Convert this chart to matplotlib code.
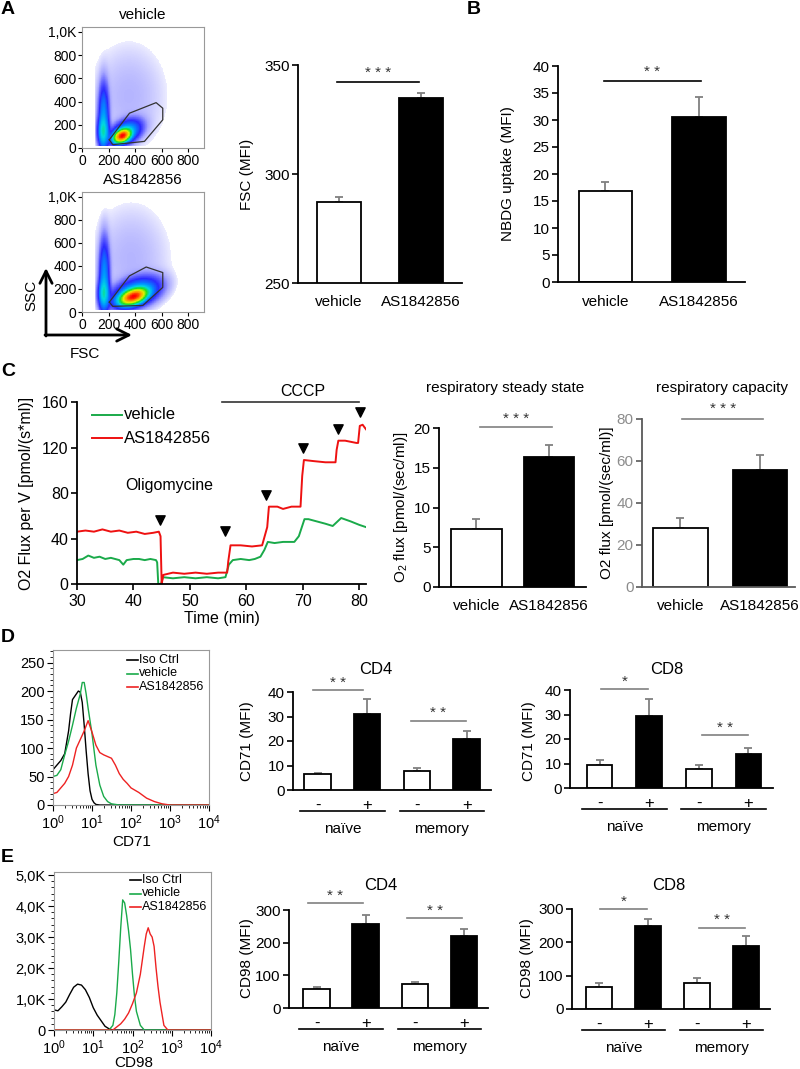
import numpy as np
import matplotlib
matplotlib.use('Agg')
import matplotlib.pyplot as plt
from matplotlib.colors import LinearSegmentedColormap, LogNorm
from matplotlib.transforms import blended_transform_factory
import matplotlib.ticker as mticker

plt.rcParams['font.family'] = ['Liberation Sans', 'DejaVu Sans']
plt.rcParams['mathtext.fontset'] = 'custom'
plt.rcParams['mathtext.rm'] = 'Liberation Sans'
plt.rcParams['mathtext.it'] = 'Liberation Sans:italic'
plt.rcParams['mathtext.bf'] = 'Liberation Sans:bold'

W, H = 800, 1069

# ------------------------------------------------------------------ data
groups_AB = ['vehicle', 'AS1842856']
fsc_mfi = [287.2, 334.9]
fsc_err = [2.2, 2.3]
nbdg_mfi = [16.9, 30.6]
nbdg_err = [1.6, 3.6]
o2_steady = [7.3, 16.4]
o2_steady_err = [1.3, 1.5]
o2_capacity = [28.2, 55.7]
o2_capacity_err = [4.8, 7.3]

treat_labels = ['-', '+', '-', '+']
subsets = ['naïve', 'memory']
cd71_cd4 = [6.5, 30.9, 7.8, 20.9]
cd71_cd4_err = [0.5, 6.3, 1.0, 3.1]
cd71_cd8 = [9.5, 29.3, 7.7, 13.9]
cd71_cd8_err = [1.8, 7.1, 1.5, 2.5]
cd98_cd4 = [57.8, 258.0, 73.5, 220.6]
cd98_cd4_err = [5.2, 25.6, 6.3, 21.0]
cd98_cd8 = [67.0, 249.0, 79.0, 187.6]
cd98_cd8_err = [10.0, 22.0, 15.0, 30.4]

# O2 flux traces (time in min, flux)
red_t = [30, 31.5, 33, 34.5, 36, 37.5, 39, 40.5, 42, 43.5, 44.5, 44.8, 45.0, 45.3, 47, 49, 51, 53, 55, 56.6,
         56.8, 57.2, 59, 61, 62.8, 63.7, 64.0, 65.5, 66.5, 68, 69.6, 69.9, 70.2, 72, 74, 75.8, 76.0, 76.3, 77.5, 79.5,
         79.8, 80.1, 80.6, 81.2]
red_v = [46, 47, 46, 48, 46, 47, 45, 46, 44, 45, 46, 42, 0, 8, 10, 9, 10, 9, 10, 10,
         20, 34, 34, 33, 34, 50, 68, 68, 66, 68, 68, 95, 109, 108, 107, 107, 118, 126, 126, 124,
         124, 139, 140, 136]
green_t = [30, 31, 32, 33, 34, 35, 36, 37.5, 38.2, 38.8, 40, 41, 42, 43, 44, 44.2, 44.4, 44.9, 45.2, 47,
           49, 51, 53, 55, 56.3, 56.9, 57.6, 59, 60.5, 61.5, 62.5, 63.2, 63.8, 65, 66.5, 68.5, 69.3, 70.3, 71, 72.5,
           74, 75.3, 76.8, 78.5, 80, 81.2]
green_v = [21, 22, 25, 23, 24, 22, 23, 21, 17, 21, 22, 22, 21, 22, 21, 19, 0, 0, 6, 5,
           6, 5, 6, 5, 6, 17, 21, 22, 21, 22, 24, 30, 37, 36, 37, 37, 42, 57, 57, 55,
           53, 51, 58, 55, 52, 50]
inj_t = [44.7, 56.3, 63.5, 70.0, 76.3, 80.2]
inj_v = [56, 47, 78, 120, 136, 151]

# CD71 histograms (log10 fluorescence, count)
cd71_iso_x = [0, 0.1, 0.2, 0.3, 0.4, 0.45, 0.5, 0.55, 0.6, 0.65, 0.7, 0.75, 0.8, 0.85, 0.9, 0.95, 1.0, 1.05, 1.1, 1.2, 4]
cd71_iso_y = [62, 70, 78, 90, 130, 160, 185, 190, 195, 200, 198, 180, 140, 95, 55, 25, 10, 4, 1, 0, 0]
cd71_veh_x = [0, 0.1, 0.2, 0.3, 0.4, 0.5, 0.6, 0.7, 0.75, 0.8, 0.85, 0.9, 1.0, 1.1, 1.2, 1.3, 1.4, 1.5, 1.7, 4]
cd71_veh_y = [50, 52, 62, 88, 112, 140, 170, 195, 215, 215, 195, 170, 125, 70, 35, 15, 6, 2, 0, 0]
cd71_as_x = [0, 0.1, 0.2, 0.3, 0.4, 0.5, 0.6, 0.7, 0.8, 0.9, 1.0, 1.1, 1.2, 1.3, 1.4, 1.5, 1.6, 1.7, 1.8, 1.9,
             2.0, 2.2, 2.4, 2.6, 2.8, 3.0, 4]
cd71_as_y = [20, 22, 30, 38, 50, 70, 100, 115, 130, 148, 128, 105, 92, 88, 85, 82, 70, 55, 45, 38,
             30, 22, 12, 6, 2, 0, 0]
# CD98 histograms (log10 fluorescence, count)
cd98_iso_x = [0, 0.1, 0.2, 0.3, 0.4, 0.5, 0.6, 0.7, 0.8, 0.9, 1.0, 1.1, 1.2, 1.3, 1.4, 1.5, 4]
cd98_iso_y = [650, 620, 750, 900, 1150, 1380, 1480, 1450, 1300, 1050, 720, 480, 300, 120, 40, 0, 0]
cd98_veh_x = [0, 1.4, 1.5, 1.55, 1.6, 1.65, 1.7, 1.75, 1.8, 1.85, 1.9, 1.95, 2.0, 2.05, 2.1, 2.2, 2.3, 4]
cd98_veh_y = [0, 0, 150, 500, 1200, 2200, 3300, 4200, 4100, 3700, 3200, 2600, 1800, 1100, 600, 150, 0, 0]
cd98_as_x = [0, 1.5, 1.6, 1.7, 1.8, 1.9, 2.0, 2.1, 2.2, 2.3, 2.35, 2.4, 2.45, 2.5, 2.55, 2.6, 2.65, 2.7, 2.8, 2.9, 4]
cd98_as_y = [0, 0, 100, 200, 350, 550, 850, 1200, 1800, 2700, 3100, 3300, 3100, 3000, 2700, 2000, 1400, 900, 150, 0, 0]

# FSC/SSC population components: (FSC, SSC, sd_long, sd_short, angle, weight)
pops_vehicle = [(304, 105, 37, 26, 38, 1.0), (331, 135, 75, 50, 38, 0.10), (163, 260, 23, 170, 0, 0.07),
                (159, 140, 23, 70, 0, 0.10), (353, 450, 205, 330, 0, 0.006)]
pops_as = [(388, 135, 57, 32, 25, 1.0), (406, 165, 110, 65, 25, 0.10), (168, 300, 23, 190, 0, 0.07),
           (163, 160, 23, 70, 0, 0.10), (370, 470, 212, 340, 0, 0.006)]
gate_vehicle = [(206, 71), (358, 300), (559, 391), (609, 343), (609, 243), (471, 57), (232, 29)]
gate_as = [(206, 86), (358, 314), (484, 391), (609, 343), (609, 214), (459, 57), (232, 49)]
fsc_max, ssc_max = 920, 1043

# ------------------------------------------------------------------ helpers
fig = plt.figure(figsize=(8, 10.69), dpi=100)


def rect(l, t, r, b):
    return [l / W, 1 - b / H, (r - l) / W, (b - t) / H]


ax0 = fig.add_axes([0, 0, 1, 1], zorder=10)
ax0.set_xlim(0, W)
ax0.set_ylim(H, 0)
ax0.axis('off')
ax0.patch.set_alpha(0)


def T(x, y, s, **kw):
    ha = kw.pop('ha', 'center')
    va = kw.pop('va', 'center')
    fs = kw.pop('fontsize', 11)
    return ax0.text(x, y, s, ha=ha, va=va, fontsize=fs, **kw)


def style_bar_axes(ax, tickfs=11, color='black', labcolor='black'):
    for s in ['top', 'right']:
        ax.spines[s].set_visible(False)
    for s in ['left', 'bottom']:
        ax.spines[s].set_color(color)
        ax.spines[s].set_linewidth(1.3)
    ax.tick_params(axis='y', direction='out', length=4, width=1.2, labelsize=tickfs, pad=2,
                   color=color, labelcolor=labcolor)
    ax.tick_params(axis='x', length=0, labelsize=tickfs)


def bars(ax, pos, vals, errs, width, cols):
    ax.bar(pos, vals, width=width, color=cols, edgecolor='black', linewidth=1.3, zorder=2)
    ax.errorbar(pos, vals, yerr=[np.zeros(len(vals)), errs], fmt='none', ecolor='#808080',
                elinewidth=1.3, capsize=3, capthick=1.3, zorder=1)


def sig(ax, x0, x1, y, s, color='#808080', dy=0.0):
    ax.plot([x0, x1], [y, y], color=color, lw=1.2, clip_on=False)
    ax.text((x0 + x1) / 2, y + dy, ' '.join(s), ha='center', va='bottom', fontsize=11, color='#333333')


def groups_below(ax, pos, hpx_axes, off_line, off_lab):
    tr = blended_transform_factory(ax.transData, ax.transAxes)
    for i, name in enumerate(subsets):
        x0, x1 = pos[2 * i] - 0.35, pos[2 * i + 1] + 0.35
        ax.plot([x0, x1], [-off_line / hpx_axes] * 2, color='black', lw=1.2, transform=tr, clip_on=False)
        ax.text((x0 + x1) / 2, -off_lab / hpx_axes, name, transform=tr, ha='center', va='center', fontsize=11)


# ------------------------------------------------------------------ A: dot plots
cmap_flow = LinearSegmentedColormap.from_list('flow', [
    (0.0, '#ececff'), (0.2, '#a8a8ff'), (0.42, '#2a2aff'), (0.56, '#0090ff'), (0.66, '#00d8e0'),
    (0.76, '#20e020'), (0.85, '#e0f000'), (0.93, '#ff9000'), (1.0, '#ff0000')])
GX, GY = np.meshgrid(np.linspace(0, fsc_max, 300), np.linspace(0, ssc_max, 300))


def dens(pops):
    Z = np.zeros_like(GX)
    for cx, cy, sx, sy, ang, w in pops:
        a = np.deg2rad(ang)
        dx, dy = GX - cx, GY - cy
        u = dx * np.cos(a) + dy * np.sin(a)
        v = -dx * np.sin(a) + dy * np.cos(a)
        Z += w * np.exp(-0.5 * ((u / sx) ** 2 + (v / sy) ** 2))
    Z /= Z.max()
    Z[GX < 101] = 0
    Z[GY < 15] = 0
    return np.ma.masked_less(Z, 0.002)


for (t, b, title, pops, gate) in [(27, 148, 'vehicle', pops_vehicle, gate_vehicle),
                                  (192, 312, 'AS1842856', pops_as, gate_as)]:
    ax = fig.add_axes(rect(82, t, 204, b))
    ax.pcolormesh(GX, GY, dens(pops), cmap=cmap_flow, norm=LogNorm(0.002, 1), shading='auto', rasterized=True)
    g = np.array(gate + [gate[0]])
    ax.plot(g[:, 0], g[:, 1], color='#333333', lw=0.9)
    ax.set_xlim(0, fsc_max)
    ax.set_ylim(0, ssc_max)
    ax.set_xticks([0, 200, 400, 600, 800])
    ax.set_yticks([0, 200, 400, 600, 800, 1000])
    ax.set_yticklabels(['0', '200', '400', '600', '800', '1,0K'])
    ax.tick_params(direction='out', length=3, labelsize=10, pad=1)
    for s in ax.spines.values():
        s.set_color('#999999')
    T(143, 15 if t == 27 else 180, title, fontsize=11)

# axes arrows
ax0.annotate('', xy=(46, 268), xytext=(46, 336), arrowprops=dict(arrowstyle='->', lw=2, color='black',
                                                                   mutation_scale=22, shrinkA=0, shrinkB=0))
ax0.annotate('', xy=(132, 335), xytext=(45, 335), arrowprops=dict(arrowstyle='->', lw=2, color='black',
                                                                   mutation_scale=22, shrinkA=0, shrinkB=0))
T(31, 295, 'SSC', rotation=90, fontsize=11)
T(85, 354, 'FSC', fontsize=11)

# ------------------------------------------------------------------ A: FSC bars
ax = fig.add_axes(rect(298, 65, 462, 283))
bars(ax, [0, 1], fsc_mfi, fsc_err, 0.54, ['white', 'black'])
ax.set_xlim(-0.5, 1.5)
ax.set_ylim(250, 350)
ax.set_yticks([250, 300, 350])
ax.set_xticks([0, 1])
ax.set_xticklabels(groups_AB)
style_bar_axes(ax)
ax.tick_params(axis='x', pad=9)
sig(ax, -0.02, 0.98, 342.2, '***', color='black', dy=0.8)
T(247, 174, 'FSC (MFI)', rotation=90)

# ------------------------------------------------------------------ B: NBDG bars
ax = fig.add_axes(rect(558, 66, 745, 282))
bars(ax, [0, 1], nbdg_mfi, nbdg_err, 0.57, ['white', 'black'])
ax.set_xlim(-0.508, 1.492)
ax.set_ylim(0, 40)
ax.set_yticks(range(0, 41, 5))
ax.set_xticks([0, 1])
ax.set_xticklabels(groups_AB)
style_bar_axes(ax)
ax.tick_params(axis='x', pad=9)
sig(ax, -0.02, 1.02, 37.2, '**', color='black', dy=0.3)
T(508, 174, 'NBDG uptake (MFI)', rotation=90)

# ------------------------------------------------------------------ C: O2 traces
ax = fig.add_axes(rect(77, 402, 366, 584))
ax.plot(green_t, green_v, color='#1aaa4a', lw=1.4)
ax.plot(red_t, red_v, color='#ee1111', lw=1.4)
ax.scatter(inj_t, inj_v, marker='v', s=45, color='black', zorder=3)
ax.set_xlim(30, 81.2)
ax.set_ylim(0, 160)
ax.set_xticks([30, 40, 50, 60, 70, 80])
ax.set_yticks([0, 40, 80, 120, 160])
style_bar_axes(ax, tickfs=11.5)
ax.tick_params(axis='x', direction='out', length=4, width=1.2, pad=3)
ax.plot([55.7, 80.0], [160.3, 160.3], color='#333333', lw=1.2, clip_on=False)
ax.text(70, 163, 'CCCP', ha='center', va='bottom', fontsize=11.5)
ax.text(46.4, 86.5, 'Oligomycine', ha='center', va='center', fontsize=11.5)
ax.plot([32.6, 37.9], [149, 149], color='#1aaa4a', lw=1.4)
ax.plot([32.6, 37.9], [128, 128], color='#ee1111', lw=1.4)
ax.text(38.3, 149, 'vehicle', ha='left', va='center', fontsize=12)
ax.text(38.3, 128, 'AS1842856', ha='left', va='center', fontsize=12)
T(27, 493, 'O2 Flux per V [pmol/(s*ml)]', rotation=90, fontsize=11.5)
T(222, 618, 'Time (min)', fontsize=11.5)

# steady state
ax = fig.add_axes(rect(439, 428, 586, 587))
bars(ax, [0, 1], o2_steady, o2_steady_err, 0.70, ['white', 'black'])
ax.set_xlim(-0.517, 1.51)
ax.set_ylim(0, 20)
ax.set_yticks([0, 5, 10, 15, 20])
ax.set_xticks([0, 1])
ax.set_xticklabels(groups_AB)
style_bar_axes(ax)
ax.tick_params(axis='x', pad=9)
sig(ax, 0.05, 1.04, 20.1, '***', dy=0.1)
T(505, 388, 'respiratory steady state')
T(401, 507, 'O$_2$ flux [pmol/(sec/ml)]', rotation=90)

# capacity
ax = fig.add_axes(rect(642, 419, 795, 587))
bars(ax, [0, 1], o2_capacity, o2_capacity_err, 0.686, ['white', 'black'])
ax.set_xlim(-0.484, 1.44)
ax.set_ylim(0, 80)
ax.set_yticks([0, 20, 40, 60, 80])
ax.set_xticks([0, 1])
ax.set_xticklabels(groups_AB)
style_bar_axes(ax, color='#595959', labcolor='#8c8c8c')
ax.tick_params(axis='x', pad=9, labelcolor='black')
sig(ax, 0.02, 1.04, 80, '***', dy=1.5)
T(722, 388, 'respiratory capacity')
T(607, 503, 'O2 flux [pmol/(sec/ml)]', rotation=90)


# ------------------------------------------------------------------ D/E histograms
def hist_axes(l, t, r, b, ymax, yticks, ylabels, curves, xlabel, xlab_y, leg_x, leg_y):
    ax = fig.add_axes(rect(l, t, r, b))
    for xs, ys, c in curves:
        ax.plot(10 ** np.array(xs), ys, color=c, lw=1.0)
    ax.set_xscale('log')
    ax.set_xlim(1, 1e4)
    ax.set_ylim(0, ymax)
    ax.set_yticks(yticks)
    ax.set_yticklabels(ylabels)
    ax.xaxis.set_major_locator(mticker.LogLocator(base=10, numticks=10))
    ax.xaxis.set_minor_locator(mticker.LogLocator(base=10, subs=np.arange(2, 10), numticks=10))
    ax.xaxis.set_minor_formatter(mticker.NullFormatter())
    ax.yaxis.set_minor_locator(mticker.AutoMinorLocator(5))
    ax.tick_params(which='both', direction='out', labelsize=10.5, pad=2, top=False, right=False)
    ax.tick_params(which='major', length=4)
    ax.tick_params(which='minor', length=2)
    for s in ax.spines.values():
        s.set_color('#999999')
    T((l + r) / 2 + 1, xlab_y, xlabel, fontsize=11)
    names = ['Iso Ctrl', 'vehicle', 'AS1842856']
    for i, (xs, ys, c) in enumerate(curves):
        yy = leg_y + i * 13.5
        ax0.plot([leg_x, leg_x + 11], [yy, yy], color=c, lw=1.2)
        T(leg_x + 12, yy, names[i], ha='left', fontsize=9)
    return ax


hist_axes(53, 650, 209, 805, 272, [0, 50, 100, 150, 200, 250], ['0', '50', '100', '150', '200', '250'],
          [(cd71_iso_x, cd71_iso_y, 'black'), (cd71_veh_x, cd71_veh_y, '#1aaa4a'), (cd71_as_x, cd71_as_y, '#ee2222')],
          'CD71', 842, 127, 660)
hist_axes(54, 872, 211, 1030, 5100, [0, 1000, 2000, 3000, 4000, 5000], ['0', '1,0K', '2,0K', '3,0K', '4,0K', '5,0K'],
          [(cd98_iso_x, cd98_iso_y, 'black'), (cd98_veh_x, cd98_veh_y, '#1aaa4a'), (cd98_as_x, cd98_as_y, '#ee2222')],
          'CD98', 1063, 130, 880)


# ------------------------------------------------------------------ D/E grouped bars
def group_bars(l, t, r, b, xlim, vals, errs, width, ymax, yticks, title, title_xy, ylab, ylab_xy, sigs):
    ax = fig.add_axes(rect(l, t, r, b))
    pos = [0, 1, 2, 3]
    bars(ax, pos, vals, errs, width, ['white', 'black', 'white', 'black'])
    ax.set_xlim(*xlim)
    ax.set_ylim(0, ymax)
    ax.set_yticks(yticks)
    ax.set_xticks(pos)
    ax.set_xticklabels(treat_labels)
    style_bar_axes(ax)
    ax.tick_params(axis='x', pad=6, labelsize=12)
    for x0, x1, y, s in sigs:
        sig(ax, x0, x1, y, s, dy=ymax * 0.005)
    groups_below(ax, pos, b - t, 21, 39)
    T(title_xy[0], title_xy[1], title, fontsize=12)
    T(ylab_xy[0], ylab_xy[1], ylab, rotation=90)
    return ax


group_bars(293, 692, 491, 790, (-0.493, 3.49), cd71_cd4, cd71_cd4_err, 0.53, 40, [0, 10, 20, 30, 40],
           'CD4', (376, 669), 'CD71 (MFI)', (247, 741), [(-0.1, 0.92, 40.7, '**'), (1.88, 2.98, 28.2, '**')])
group_bars(570, 690, 773, 788, (-0.595, 3.495), cd71_cd8, cd71_cd8_err, 0.52, 40, [0, 10, 20, 30, 40],
           'CD8', (667, 669), 'CD71 (MFI)', (529, 741), [(0.03, 0.98, 40.3, '*'), (2.07, 3.0, 21.5, '**')])
group_bars(289, 910, 488, 1008, (-0.559, 3.485), cd98_cd4, cd98_cd4_err, 0.54, 300, [0, 100, 200, 300],
           'CD4', (381, 886), 'CD98 (MFI)', (247, 958), [(-0.18, 0.95, 321, '**'), (1.84, 2.96, 274, '**')])
group_bars(572, 909, 770, 1009, (-0.55, 3.49), cd98_cd8, cd98_cd8_err, 0.52, 300, [0, 100, 200, 300],
           'CD8', (669, 886), 'CD98 (MFI)', (527, 958), [(0.03, 0.98, 299.6, '*'), (2.04, 2.99, 243.4, '**')])

# panel letters
for x, y, s in [(1, 10, 'A'), (467, 9, 'B'), (1, 372, 'C'), (1, 638, 'D'), (1, 857, 'E')]:
    T(x, y, s, ha='left', fontsize=14, fontweight='bold')

fig.savefig('out.png', dpi=100)
